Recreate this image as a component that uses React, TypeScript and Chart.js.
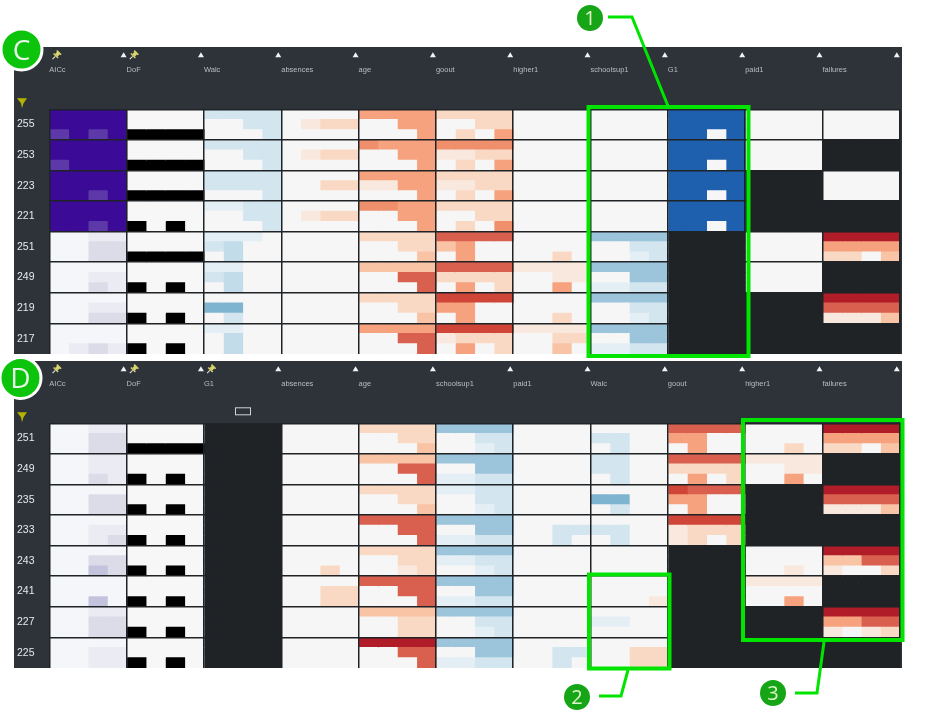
import React, { useEffect, useRef } from "react";
import { Chart, registerables } from "chart.js";

Chart.register(...registerables);

const Z = "0000 0000 0000";
const X = "xxxx xxxx xxxx";

const columnsC = ["AICc", "DoF", "Walc", "absences", "age", "goout", "higher1", "schoolsup1", "G1", "paid1", "failures"];
const rowsC = ["255", "253", "223", "221", "251", "249", "219", "217"];
const pinnedC = ["AICc", "DoF"];

const c255 = ["9999 9999 8989", "0000 0000 9999", "bbbb 00bb 000b", "0000 0122 0000", "4444 0044 0004", "2222 0022 0204", Z, Z, "iiii iiii ii0i", Z, Z];
const c253 = ["9999 9999 8999", "0000 0000 9999", "bbbb 00bb 000b", "0000 0122 0000", "5444 0044 0004", "5555 1122 0204", Z, Z, "iiii iiii ii0i", Z, X];
const c223 = ["9999 9999 9989", "0000 0000 9999", "bbbb bbbb 000b", "0000 0022 0000", "4444 1144 0004", "2222 1122 0204", Z, Z, "iiii iiii ii0i", X, Z];
const c221 = ["9999 9999 9989", "0000 0000 9090", "aabb 00bb 000b", "0000 0122 0000", "5544 0044 0004", "2222 0022 0205", Z, Z, "iiii iiii ii0i", X, X];
const c251 = ["0011 0022 0022", "0000 0000 9999", "aaa0 bc00 0c00", Z, "2222 0022 0003", "6666 3400 0400", "0000 0000 0020", "dddd 00bb 00ab", X, Z, "8888 4444 2203"];
const c249 = ["0000 0011 0021", "0000 0000 9090", "aa00 bc00 0c00", Z, "3333 0066 0006", "6666 2222 0402", "1111 0011 0040", "dddd 00dd aabb", X, Z, X];
const c219 = ["0000 0011 0022", "0000 0000 9090", "0000 ee00 0b00", Z, "2222 0022 0003", "7777 4400 0400", "0000 0000 0020", "dddd 00bb 00ab", X, X, "8888 6666 1113"];
const c217 = ["0000 0000 0121", "0000 0000 9090", "aa00 0c00 0c00", Z, "4444 0066 0006", "7777 1222 0402", "1111 0022 0030", "dddd 00dd aabb", X, X, X];

const columnsD = ["AICc", "DoF", "G1", "absences", "age", "schoolsup1", "paid1", "Walc", "goout", "higher1", "failures"];
const rowsD = ["251", "249", "235", "233", "243", "241", "227", "225"];
const pinnedD = ["AICc", "DoF", "G1"];

const d251 = ["0011 0022 0022", "0000 0000 9999", X, Z, "2222 0022 0003", "dddd 00bb 00ab", Z, "0000 bb00 0b00", "6666 4400 0400", "0000 0000 0020", "8888 4444 2203"];
const d249 = ["0011 0011 0021", "0000 0000 9090", X, Z, "3333 0066 0006", "dddd 00dd aabb", Z, "bb00 bb00 0b00", "6666 2222 0402", "1111 0011 0040", X];
const d235 = ["0000 0022 0022", "0000 0000 9090", X, Z, "2222 0022 0003", "aabb 00bb 00ab", Z, "0000 ee00 0b00", "7666 4400 0400", X, "8888 6666 1113"];
const d233 = ["0000 0011 0012", "0000 0000 9090", X, Z, "6666 0066 0006", "dddd 00dd aabb", "0000 00bb 00b0", "0000 bb00 0b00", "7777 1222 1202", X, X];
const d243 = ["0000 0022 0032", "0000 0000 9090", X, "0000 0000 0020", "2222 0022 0012", "dddd aabb 00ab", Z, Z, X, "0000 0000 0010", "8888 3366 1002"];
const d241 = ["0000 0000 0030", "0000 0000 9090", X, "0000 0022 0022", "6666 0066 0006", "dddd 00dd aabb", Z, "0000 0000 0001", X, "1111 0000 0040", X];
const d227 = ["0011 0022 0022", "0000 0000 9090", X, Z, "3333 0022 0022", "dddd 00bb 00ab", Z, "0000 aa00 0000", X, X, "8888 4466 1012"];
const d225 = ["0000 0011 0011", "0000 0000 9090", X, Z, "8888 0066 0006", "dddd 00dd aabb", "0000 00bb 00b0", "0000 0022 0022", X, X, X];

const valuesC = [c255, c253, c223, c221, c251, c249, c219, c217];
const valuesD = [d251, d249, d235, d233, d243, d241, d227, d225];

const RED = ["#f6f6f6", "#f9e8dd", "#fad9c4", "#f9c3a6", "#f6a27f", "#ef8f6c", "#d9604e", "#cf4638", "#b01c28", "#a01020"];
const BLUE = ["#f6f6f6", "#e4eff5", "#d3e5ef", "#c2dcea", "#9cc5dc", "#7fb4d0", "#5c9dc6", "#4687bd", "#2f73b5", "#1f60ae"];
const PURPLE = ["#f5f6f9", "#ebebf3", "#dcdce9", "#c4c3de", "#a99fd0", "#8f80c4", "#7a64b8", "#6a50b0", "#5c38a8", "#3b0a96"];
const BLACK = ["#f7f7f7", "#ddd", "#bbb", "#999", "#777", "#555", "#444", "#333", "#111", "#000"];
const NULL_CELL = "#1f2326";
const FRAME = "#2e3339";
const GREEN = "#00e400";

const SUB_COLS = 4;
const SUB_ROWS = 3;

function level(ch: string): number | null {
  if (ch === "x") return null;
  if (ch >= "0" && ch <= "9") return Number(ch);
  return -(ch.charCodeAt(0) - 96);
}

function colorOf(column: string, value: number | null): string {
  if (value === null) return NULL_CELL;
  if (column === "AICc") return PURPLE[value];
  if (column === "DoF") return BLACK[value];
  return value < 0 ? BLUE[-value] : RED[value];
}

function Panel({ top, height, rows, columns, values, pinned, marker }: any) {
  const ref = useRef<HTMLCanvasElement>(null);
  useEffect(() => {
    const labels: string[] = [];
    rows.forEach((r: string) => labels.push("", r, ""));
    const nSub = columns.length * SUB_COLS;
    const datasets: any[] = [];
    for (let c = 0; c < columns.length; c++) {
      for (let s = 0; s < SUB_COLS; s++) {
        const x0 = c * SUB_COLS + s;
        const data: number[][] = [];
        const colors: string[] = [];
        values.forEach((row: string[]) => {
          const cell = row[c].replace(/ /g, "");
          for (let r = 0; r < SUB_ROWS; r++) {
            data.push([x0, x0 + 1]);
            colors.push(colorOf(columns[c], level(cell[r * SUB_COLS + s])));
          }
        });
        datasets.push({ data, backgroundColor: colors, borderWidth: 0, barPercentage: 1, categoryPercentage: 1, grouped: false, inflateAmount: 0.5 });
      }
    }
    const pin = (g: any, x: number, y: number) => {
      g.save();
      g.translate(x, y);
      g.rotate(Math.PI / 4);
      g.fillStyle = "#d9d56e";
      g.fillRect(-3, -4.5, 6, 1.6);
      g.fillRect(-1.8, -3.5, 3.6, 3.6);
      g.fillRect(-3.2, 0, 6.4, 1.4);
      g.fillStyle = "#e8e8e0";
      g.fillRect(-0.5, 1.4, 1, 4);
      g.restore();
    };
    const decor = {
      id: "decor",
      afterDraw(chart: any) {
        const g = chart.ctx;
        const x = chart.scales.x;
        const t = chart.chartArea.top;
        g.save();
        for (let i = 1; i <= columns.length; i++) {
          const px = x.getPixelForValue(i * SUB_COLS) - 3;
          g.fillStyle = "#f2f2f2";
          g.beginPath();
          g.moveTo(px, t - 57);
          g.lineTo(px + 3, t - 52);
          g.lineTo(px - 3, t - 52);
          g.closePath();
          g.fill();
        }
        columns.forEach((c: string, i: number) => {
          if (pinned.includes(c)) pin(g, x.getPixelForValue(i * SUB_COLS) + 7, t - 54);
        });
        g.fillStyle = "#b4b400";
        g.beginPath();
        g.moveTo(3, t - 11);
        g.lineTo(13, t - 11);
        g.lineTo(9.5, t - 6);
        g.lineTo(8, t - 1);
        g.lineTo(7, t - 6);
        g.closePath();
        g.fill();
        if (marker) {
          const cx = x.getPixelForValue(2.5 * SUB_COLS);
          g.strokeStyle = "#d0d4d8";
          g.lineWidth = 1;
          g.strokeRect(Math.round(cx - 8) + 0.5, t - 15.5, 15, 7);
        }
        g.restore();
      },
    };
    const chart = new Chart(ref.current as HTMLCanvasElement, {
      type: "bar",
      data: { labels, datasets },
      plugins: [decor],
      options: {
        indexAxis: "y",
        animation: false,
        responsive: false,
        layout: { padding: { right: 2.2, left: 3, top: 0, bottom: 0 } },
        plugins: { legend: { display: false }, tooltip: { enabled: false } },
        scales: {
          x: {
            type: "linear",
            position: "top",
            min: 0,
            max: nSub,
            afterFit(s: any) {
              s.height = 62.3;
              s.paddingLeft = 0;
              s.paddingRight = 0;
              s.paddingTop = 0;
              s.paddingBottom = 0;
            },
            border: { display: false },
            grid: { color: NULL_CELL, lineWidth: 1.5, drawTicks: false, z: 1 },
            ticks: {
              stepSize: SUB_COLS,
              autoSkip: false,
              maxRotation: 0,
              align: "start",
              padding: 35,
              color: "#b9bdc1",
              font: { family: "'Liberation Sans'", size: 7.5 },
              callback: (v: any) => columns[(v as number) / SUB_COLS] ?? "",
            },
          },
          y: {
            type: "category",
            afterFit(s: any) {
              s.width = 32.3;
              s.paddingTop = 0;
              s.paddingBottom = 0;
              s.paddingLeft = 0;
              s.paddingRight = 0;
            },
            border: { display: false },
            grid: {
              offset: true,
              drawTicks: false,
              z: 1,
              lineWidth: 1.5,
              color: (ctx: any) => (ctx.index % SUB_ROWS === 0 ? NULL_CELL : "rgba(0,0,0,0)"),
            },
            ticks: {
              autoSkip: false,
              crossAlign: "far",
              padding: 3,
              color: "#e6e8ea",
              font: { family: "'Liberation Sans'", size: 10.5 },
            },
          },
        },
      } as any,
    });
    return () => chart.destroy();
  }, []);
  return (
    <canvas
      ref={ref}
      width={888}
      height={height}
      style={{ position: "absolute", left: 14, top, width: 888, height, background: FRAME, display: "block", filter: "blur(0.5px)" }}
    />
  );
}

function Badge({ cx, cy, r, text, big }: any) {
  return (
    <g>
      <circle cx={cx} cy={cy} r={r} fill={big ? "#0cc40c" : "#16a516"} stroke={big ? "#ffffff" : "none"} strokeWidth={big ? 3 : 0} />
      <text
        x={cx}
        y={cy + (big ? 10 : 7)}
        textAnchor="middle"
        fontFamily="'Open Sans'"
        fontSize={big ? 28 : 20}
        fill={big ? "#e8f8e8" : "#dff5c8"}
      >
        {text}
      </text>
    </g>
  );
}

export default function App() {
  return (
    <div style={{ position: "absolute", left: 0, top: 0, width: 952, height: 714, background: "#fff", overflow: "hidden" }}>
      <Panel top={46.5} height={307} rows={rowsC} columns={columnsC} values={valuesC} pinned={pinnedC} />
      <Panel top={361} height={307} rows={rowsD} columns={columnsD} values={valuesD} pinned={pinnedD} marker />
      <svg width={952} height={714} style={{ position: "absolute", left: 0, top: 0, pointerEvents: "none" }}>
        <g fill="none" stroke={GREEN} strokeWidth={4}>
          <rect x={588.5} y={107} width={160} height={249} />
          <rect x={589} y={574.5} width={80.5} height={94} />
          <rect x={743} y={420} width={159.5} height={220} />
        </g>
        <g fill="none" stroke={GREEN} strokeWidth={3}>
          <polyline points="608,17 632,17 668,106" />
          <polyline points="599,696 621,696 628,670" />
          <polyline points="795,693 817,693 824,642" />
        </g>
        <Badge cx={21.5} cy={49.5} r={20.5} text="C" big />
        <Badge cx={20.5} cy={378} r={20.5} text="D" big />
        <Badge cx={590} cy={18} r={13} text="1" />
        <Badge cx={577} cy={697} r={13} text="2" />
        <Badge cx={773} cy={693} r={13} text="3" />
      </svg>
    </div>
  );
}
